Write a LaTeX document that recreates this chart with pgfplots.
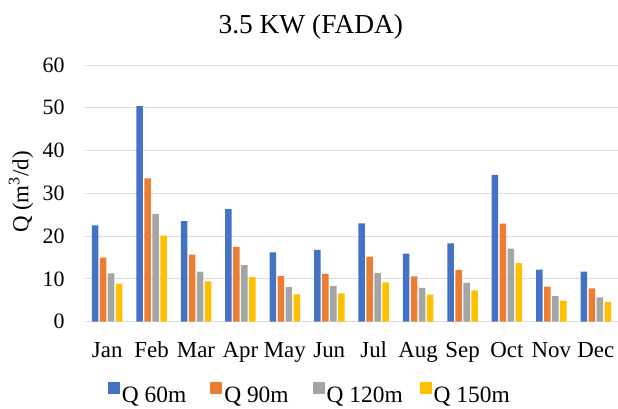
\documentclass[border=0pt]{standalone}
\usepackage{fontspec}
\setmainfont{Liberation Serif}
\usepackage{pgfplots}
\pgfplotsset{compat=1.18}
\definecolor{cA}{HTML}{4472C4}
\definecolor{cB}{HTML}{ED7D31}
\definecolor{cC}{HTML}{A5A5A5}
\definecolor{cD}{HTML}{FFC000}
\definecolor{gridc}{HTML}{DEDEDE}
\begin{document}
\begin{tikzpicture}
\begin{axis}[
  scale only axis,
  width=533bp, height=256.7bp,
  ymin=0, ymax=60, ytick={0,10,...,60},
  xmin=-0.5, xmax=11.5,
  xtick={0,...,11},
  xticklabels={Jan,Feb,Mar,Apr,May,Jun,Jul,Aug,Sep,Oct,Nov,Dec},
  ybar=1.5bp, bar width=6.5bp,
  axis line style={draw=none},
  major tick length=0pt,
  ymajorgrids, grid style={gridc, line width=1bp},
  /pgf/number format/assume math mode=true,
  yticklabel style={font=\fontsize{22}{26}\selectfont, anchor=east, xshift=-17bp},
  xticklabel style={font=\fontsize{23}{27}\selectfont, anchor=base, yshift=-35.3bp},
  ylabel={Q (m\textsuperscript{3}/d)},
  ylabel style={font=\fontsize{23}{27}\selectfont, at={(axis description cs:-0.120,0.505)}, anchor=center, rotate=0},
  legend columns=4,
  legend style={draw=none, fill=none, font=\fontsize{23.5}{27}\selectfont,
    at={(axis description cs:0.037,-0.283)}, anchor=west,
    /tikz/every even column/.append style={column sep=3.5bp},
    /tikz/every odd column/.append style={column sep=0bp}},
  legend cell align=left,
  legend image code/.code={\fill[#1] (0bp,2bp) rectangle (12bp,13.7bp);},
]
\addplot[fill=cA, draw=none] coordinates {(0,22.5) (1,50.4) (2,23.5) (3,26.3) (4,16.2) (5,16.8) (6,23.0) (7,15.9) (8,18.3) (9,34.3) (10,12.2) (11,11.7)};
\addplot[fill=cB, draw=none] coordinates {(0,15.0) (1,33.5) (2,15.7) (3,17.5) (4,10.7) (5,11.2) (6,15.2) (7,10.6) (8,12.1) (9,22.9) (10,8.2) (11,7.8)};
\addplot[fill=cC, draw=none] coordinates {(0,11.3) (1,25.2) (2,11.7) (3,13.2) (4,8.1) (5,8.4) (6,11.4) (7,7.9) (8,9.1) (9,17.1) (10,6.0) (11,5.7)};
\addplot[fill=cD, draw=none] coordinates {(0,8.9) (1,20.1) (2,9.4) (3,10.4) (4,6.4) (5,6.6) (6,9.2) (7,6.3) (8,7.3) (9,13.7) (10,4.9) (11,4.6)};
\legend{Q 60m\hspace*{18.5bp},Q 90m\hspace*{18.5bp},Q 120m\hspace*{11.5bp},Q 150m}
\end{axis}
\node[font=\fontsize{27.5}{32}\selectfont, anchor=base] at (225.8bp,288.4bp) {3.5 KW (FADA)};
\pgfresetboundingbox
\useasboundingbox (-85bp,-87.3bp) rectangle (533bp,321.7bp);
\end{tikzpicture}
\end{document}
